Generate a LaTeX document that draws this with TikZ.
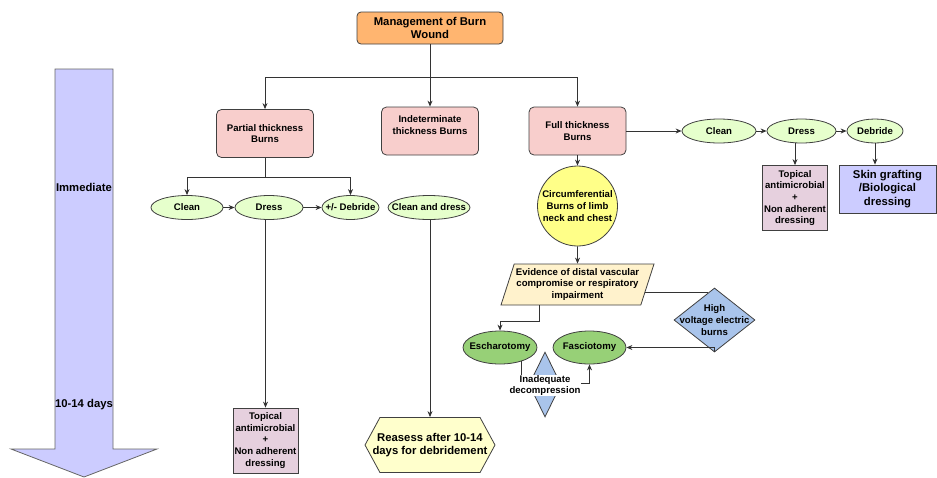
\documentclass[tikz,border=0pt]{standalone}
\usepackage{fontspec}
\setmainfont{Liberation Sans}
\usetikzlibrary{arrows.meta,shapes.geometric,shapes.symbols}
\definecolor{mgmtOrange}{HTML}{FFB570}
\definecolor{burnPink}{HTML}{F8CECC}
\definecolor{actGreen}{HTML}{E6FFCC}
\definecolor{rxPink}{HTML}{E6D0DE}
\definecolor{timeLav}{HTML}{CCCCFF}
\definecolor{hexYellow}{HTML}{FFFFCC}
\definecolor{circYellow}{HTML}{FFFF88}
\definecolor{evidFill}{HTML}{FFF2CC}
\definecolor{surgGreen}{HTML}{97D077}
\definecolor{diamBlue}{HTML}{A9C4EB}
\begin{document}
\begin{tikzpicture}[
    x=1pt, y=-1pt,
    >={Stealth[length=6pt,width=5pt]},
    sm/.style={font=\fontsize{9.6}{11.7}\selectfont\bfseries, align=center},
    lg/.style={font=\fontsize{11.3}{13.5}\selectfont\bfseries, align=center},
    burn/.style={rectangle, rounded corners=5pt, draw=black!75, line width=0.8pt, fill=burnPink, minimum width=97pt, minimum height=48pt, sm},
    act/.style={ellipse, draw=black!75, line width=0.8pt, fill=actGreen, inner sep=0pt, minimum height=24pt},
    surg/.style={ellipse, draw=black!75, line width=0.8pt, fill=surgGreen, inner sep=0pt, minimum height=33pt},
    rx/.style={rectangle, draw=black!75, line width=0.8pt, fill=rxPink, inner sep=1pt, minimum width=65pt, minimum height=65pt, sm},
    line/.style={draw=black!80, line width=0.8pt},
    flow/.style={line, ->}
]
\useasboundingbox (0,0) rectangle (937,477);

% Time arrow
\draw[draw=black!60, line width=0.8pt, fill=timeLav] (55,69) -- (113,69) -- (113,449) -- (157,449)
    -- (84,477) -- (11,449) -- (55,449) -- cycle;
\node[lg] (immediate) at (84,187) {Immediate};
\node[lg] (days) at (84,405) {10-14 days};

% Nodes
\node[rectangle, rounded corners=4pt, draw=black!75, line width=0.8pt, fill=mgmtOrange,
    minimum width=146pt, minimum height=32pt, inner sep=1pt, lg] (mgmt) at (430,28) {Management of Burn\\Wound};

\node[burn] (partial) at (265,133.5) {Partial thickness\\Burns};
\node[burn, label={[sm, yshift=6pt]center:Indeterminate\\thickness Burns}] (indet) at (430,131) {};
\node[burn] (full) at (577.5,131) {Full thickness\\Burns};

\node[act, minimum width=72pt, label={[sm]center:Clean}] (pClean) at (187,207.5) {};
\node[act, minimum width=68pt, label={[sm]center:Dress}] (pDress) at (269,207.5) {};
\node[act, minimum width=57pt, label={[sm]center:+/- Debride}] (pDebride) at (350.5,207.5) {};
\node[act, minimum width=82pt, label={[sm]center:Clean and dress}] (iClean) at (429,207.5) {};

\node[rx] (pTopical) at (265.5,440.5) {Topical\\antimicrobial\\+\\Non adherent\\dressing};
\node[signal, signal to=east and west, signal pointer angle=123, draw=black!75, line width=0.8pt,
    fill=hexYellow, inner sep=0pt, minimum width=130pt, minimum height=55pt,
    label={[lg]center:Reasess after 10-14\\days for debridement}] (reassess) at (430,445) {};

\node[act, minimum width=74pt, label={[sm]center:Clean}] (fClean) at (719,131) {};
\node[act, minimum width=69pt, label={[sm]center:Dress}] (fDress) at (801.5,131) {};
\node[act, minimum width=56pt, label={[sm]center:Debride}] (fDebride) at (875,131) {};
\node[rx] (fTopical) at (795,198) {Topical\\antimicrobial\\+\\Non adherent\\dressing};
\node[rectangle, draw=black!75, line width=0.8pt, fill=timeLav, minimum width=97pt, minimum height=48pt,
    inner sep=1pt, lg] (skinGraft) at (887.5,189) {Skin grafting\\/Biological\\dressing};

\node[circle, draw=black!75, line width=0.8pt, fill=circYellow, inner sep=0pt, minimum size=80pt, sm]
    (circBurn) at (577.5,206) {Circumferential\\Burns of limb\\neck and chest};
\node[trapezium, trapezium left angle=71, trapezium right angle=109, trapezium stretches body,
    draw=black!75, line width=0.8pt, fill=evidFill, inner xsep=0.5pt, inner ysep=3pt,
    minimum width=153pt, minimum height=41pt, sm]
    (evidence) at (577.5,284.5) {Evidence of distal vascular\\compromise or respiratory\\impairment};

\node[surg, minimum width=74pt, label={[sm]center:Escharotomy}] (escharo) at (500,347.5) {};
\node[surg, minimum width=73pt, label={[sm]center:Fasciotomy}] (fascio) at (589.5,347.5) {};
\node[diamond, draw=black!75, line width=0.8pt, fill=diamBlue, inner sep=0pt, minimum width=81pt,
    minimum height=64pt, label={[sm]center:High\\voltage electric\\burns}] (highVolt) at (714.5,320) {};
\node[diamond, draw=black!75, line width=0.8pt, fill=diamBlue, inner sep=0pt, minimum width=32pt,
    minimum height=65pt] (inadDiamond) at (545,384.5) {};

% Connectors
\coordinate (split) at (430,77);
\draw[flow] (mgmt) -- (indet);
\draw[flow] (split) -| (partial);
\draw[flow] (split) -| (full);

\coordinate (pSplit) at (265,177);
\draw[line] (partial) -- (pSplit);
\draw[flow] (pSplit) -| (pClean);
\draw[flow] (pSplit) -| (pDebride);
\draw[flow] (pClean) -- (pDress);
\draw[flow] (pDress) -- (pDebride);
\draw[flow] (pTopical |- pDress.south) -- (pTopical);
\draw[flow] (reassess |- iClean.south) -- (reassess);

\draw[flow] (full) -- (fClean);
\draw[flow] (fClean) -- (fDress);
\draw[flow] (fDress) -- (fDebride);
\draw[flow] (fTopical |- fDress.south) -- (fTopical);
\draw[flow] (fDebride) -- (fDebride |- skinGraft.north);

\draw[flow] (full) -- (circBurn);
\draw[flow] (circBurn) -- (evidence);
\coordinate (eTurn) at (539,321);
\draw[flow] (evidence.south -| eTurn) -- (eTurn) -| (escharo);
\draw[line] (evidence.-7) -- (evidence.-7 -| highVolt.103);
\draw[flow] (highVolt.south) |- (fascio);

\draw[flow] (escharo.-33) -- ++(0,22) -| (fascio);
\node[sm, fill=white, inner sep=0.5pt] (inadText) at (545,385.5) {Inadequate\\decompression};

\end{tikzpicture}
\end{document}
